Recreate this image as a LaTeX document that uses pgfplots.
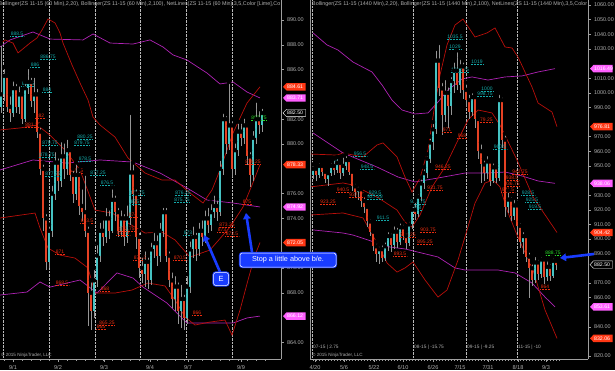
\documentclass[border=0pt]{standalone}
\usepackage{pgfplots}
\pgfplotsset{compat=1.18}
\usepackage{pgfplotstable}
\usepackage{fontspec}
\setmainfont{Liberation Sans}
\usetikzlibrary{arrows.meta}

\definecolor{upc}{RGB}{70,195,195}
\definecolor{dnc}{RGB}{230,65,35}
\definecolor{wick}{RGB}{150,150,150}
\definecolor{bbred}{RGB}{185,15,10}
\definecolor{bbpur}{RGB}{175,35,180}
\definecolor{lblc}{RGB}{20,170,170}
\definecolor{lblr}{RGB}{235,45,15}
\definecolor{lblg}{RGB}{40,220,40}
\definecolor{tagr}{RGB}{255,55,20}
\definecolor{tagm}{RGB}{255,95,255}
\definecolor{arrowb}{RGB}{25,60,255}
\definecolor{txtg}{RGB}{175,175,175}

\pgfplotstableread{
x o h l c
1 883 888.1 882.5 884
4 884 886.2 883.5 885.5
7 885.5 885.8 882.6 883
10 883 884 881.8 882.5
13 882.5 885.2 882.2 884.5
16 884.5 885 882.5 883
19 883 884.8 882.4 884
22 884 884.3 881.6 882
25 882 885 881.8 884.5
28 884.5 886.2 884 885
31 885 885.5 883 883.5
34 883.5 885.5 882.5 884
37 884 884.6 880.5 881
40 881 881.5 877.5 878
43 878 878.5 873 874
46 874 874.5 869.8 870.5
49 870.5 873.5 870 873
52 873 876.8 872.5 876
55 876 879.5 875.5 878.5
58 878.5 879 876.2 877
61 877 880.3 876.5 879
64 879 880.2 877.2 878
67 878 880.5 877.5 879.5
70 879.5 879.8 877 877.5
73 877.5 878 875.2 876
76 876 878.5 875.5 877.5
79 877.5 877.9 874.3 875
82 875 876.5 873.8 874.5
85 874.5 877.6 872.5 873
88 873 873.5 865.3 868
91 868 869 865 866.5
94 866.5 870 866 869
97 869 872 868.5 871
100 871 873.8 870.5 873
103 873 874 871.8 872.5
106 872.5 875 872 874
109 874 874.8 872.3 873
112 873 876.5 872.8 875.5
115 875.5 876 873.8 874.5
118 874.5 875 872.5 873
121 873 874.8 872.5 874
124 874 874.5 871.8 872.5
127 872.5 875.2 872 874
130 874 882.5 873.5 877.7
133 877.7 878.5 875 876
136 876 876.5 871.5 872.5
139 872.5 873 869.2 870
142 870 871 868.8 869.5
145 869.5 871.5 868.5 870.5
148 870.5 871 868.3 869
151 869 872.2 868.6 871.5
154 871.5 873 870.8 872
157 872 872.8 870.2 871
160 871 873.8 870.5 873
163 873 875 872.5 874.5
166 874.5 875 870.5 871
169 871 871.5 868.5 869
172 869 869.8 866.8 867.5
175 867.5 869.5 866.5 868.5
178 868.5 869 865.5 866.5
181 866.5 868.8 865.2 867.5
184 867.5 868 865 866
187 866 869.5 865.5 868.5
190 868.5 872.3 868 871.5
193 871.5 873.5 870.8 872.5
196 872.5 873 870.6 871.5
199 871.5 873.8 871 873
202 873 874 871.8 872.5
205 872.5 874.8 872 874
208 874 875 872.8 873.5
211 873.5 875.3 873 874.5
214 874.5 876 874 875
217 875 875.6 873.8 874.5
220 874.5 878.8 874.2 878
223 878 882.6 877.5 882
226 882 882.4 879.2 880
229 880 885 879.5 881.5
232 881.5 882 877.3 878
235 878 880.2 877.5 879.5
238 879.5 881.8 879 881
241 881 881.8 879.8 880.5
244 880.5 882.2 880 881.5
247 881.5 881.8 878.3 879
250 879 879.5 876.5 877.5
253 877.5 881.2 877 880.5
256 880.5 883.5 880 882
259 882 882.8 880.8 881.5
262 881.5 883 881 882.5
}\leftbars

\pgfplotstableread{
x o h l c
313 944 951 941 948
316 948 950 940 944
319 944 953 942 950
322 950 952 943 946
325 946 948 938 941
328 941 947 936 945
331 945 953 943 950
334 950 955 944 947
337 947 956 945 952
340 952 954 941 945
343 945 957 943 950
346 950 958 947 954
349 954 955 944 946
352 946 947 933 936
355 936 939 928 932
358 932 937 927 934
361 934 935 922 926
364 926 930 918 922
367 922 924 908 912
370 912 915 902 905
373 905 907 892 895
376 895 898 884 890
379 890 896 883 893
382 893 897 884 887
385 887 899 885 895
388 895 906 892 902
391 902 905 891 896
394 896 910 893 905
397 905 909 894 898
400 898 912 896 908
403 908 911 899 902
406 902 905 893 897
409 897 913 895 910
412 910 923 907 920
415 920 926 913 917
418 917 932 915 929
421 929 942 926 938
424 938 949 934 945
427 945 958 942 955
430 955 970 952 966
433 966 980 961 975
436 975 1030 972 1022
439 1022 1034 998 1003
442 1003 1008 971 985
445 985 1010 980 1000
448 1000 1005 976 991
451 991 1012 985 1008
454 1008 1022 1000 1015
457 1015 1029 1002 1005
460 1005 1024 1000 1018
463 1018 1022 996 1002
466 1002 1007 990 995
469 995 1000 982 987
472 987 1001 984 997
475 997 999 976 982
478 982 984 955 960
481 960 966 938 951
484 951 955 940 945
487 945 958 941 953
490 953 955 936 940
493 940 953 938 949
496 949 951 938 942
499 942 1000 940 995
502 995 998 962 968
505 968 972 915 922
508 922 933 918 927
511 927 930 912 916
514 916 928 913 923
517 923 925 905 909
520 909 912 894 898
523 898 906 890 902
526 902 904 884 888
529 888 892 860 880
532 880 884 868 872
535 872 889 870 884
538 884 887 872 876
541 876 889 873 886
544 886 888 869 874
547 874 886 871 881
550 881 884 871 875
553 875 888 873 885
556 885 887 879 882.5
}\rightbars

\newcommand{\candles}[3]{%
\addplot[forget plot, only marks, mark=none, error bars/.cd, y dir=minus, y explicit, error mark=none, error bar style={color=wick, line width=0.45pt}] table[x=x, y=h, y error minus expr={\thisrow{h}-\thisrow{l}}] {#1};
\addplot[forget plot, only marks, mark=none, error bars/.cd, y dir=minus, y explicit, error mark=none, error bar style={color=upc, line width=#3}] table[x=x, y expr={\thisrow{c}>=\thisrow{o} ? \thisrow{c} : nan}, y error minus expr={max(\thisrow{c}-\thisrow{o},#2)}] {#1};
\addplot[forget plot, only marks, mark=none, error bars/.cd, y dir=minus, y explicit, error mark=none, error bar style={color=dnc, line width=#3}] table[x=x, y expr={\thisrow{c}<\thisrow{o} ? \thisrow{o} : nan}, y error minus expr={max(\thisrow{o}-\thisrow{c},#2)}] {#1};
}

\newcommand{\lbl}[4]{%
\node[font=\fontsize{5}{5}\selectfont, text=#4, inner sep=0.3pt] (tmp) at (axis cs:#1,#2) {#3};
\draw[#4, densely dotted, line width=0.5pt] (tmp.south west) -- (tmp.south east);
}

\newcommand{\ptag}[3]{%
\fill[#2] ([xshift=2bp]#1) -- ++(3.5bp,3.7bp) -- ++(19bp,0) -- ++(0,-7.4bp) -- ++(-19bp,0) -- cycle;
\node[font=\fontsize{5.2}{5.2}\selectfont, text=white, anchor=west, inner sep=0pt] at ([xshift=6bp]#1) {#3};
}

\pgfplotsset{
 ninja/.style={
  scale only axis, anchor=south west, clip=true,
  axis background/.style={fill=black},
  axis x line*=bottom, axis y line*=right,
  axis line style={draw=gray!75, line width=0.4pt},
  tick style={gray!75, line width=0.4pt},
  tick align=outside, major tick length=2.5bp, minor tick length=1.5bp,
  xticklabel style={font=\fontsize{5.6}{5.6}\selectfont, text=txtg},
  yticklabel style={font=\fontsize{5.5}{5.5}\selectfont, text=txtg, /pgf/number format/.cd, fixed, fixed zerofill, precision=2, 1000 sep={}, assume math mode=true},
  scaled y ticks=false,
  extra x tick labels={},
  extra x tick style={grid=major, major grid style={gray!55, densely dotted, line width=0.4pt}, major tick length=0bp},
 }}

\begin{document}
\begin{tikzpicture}[x=1bp,y=1bp]
\useasboundingbox (0,0) rectangle (615,370);
\fill[black] (0,0) rectangle (615,370);

% ---------------- left: 60 min ----------------
\begin{axis}[ninja, at={(0bp,11bp)}, width=281bp, height=359bp,
  xmin=0, xmax=281, ymin=862.66, ymax=891.61,
  ytick={864,868,870,874,876,880,882,886,888,890},
  xtick={13,58,104,150,188,241}, xticklabels={9/1,9/2,9/3,9/4,9/7,9/9},
  minor xtick={4,13,...,265},
  extra x ticks={3,49,95,140,186,232}]
\addplot[bbpur, line width=0.7pt] coordinates {(0,887.82)(10,888.39)(33,889.03)(50,888.46)(83,888.39)(93,888.87)(110,888.14)(133,888.06)(150,888.39)(163,887.82)(173,887.18)(187,886.77)(207,885.72)(220,884.84)(233,885.0)(247,884.19)(260,883.71)};
\addplot[bbpur, line width=0.7pt] coordinates {(0,877.9)(33,878.71)(67,878.46)(100,878.71)(133,878.54)(160,877.66)(187,876.45)(207,875.48)(233,875.24)(260,874.92)};
\addplot[bbpur, line width=0.7pt] coordinates {(0,867.82)(27,868.06)(40,868.87)(50,868.46)(80,869.03)(97,867.98)(117,869.6)(133,869.19)(143,868.46)(167,867.17)(187,865.56)(233,865.56)(247,865.97)(260,866.12)};
\addplot[bbred, line width=0.7pt] coordinates {(0,887.98)(5,888.39)(13,888.14)(18,887.34)(30,888.14)(37,888.55)(42,889.19)(48,890.08)(55,889.76)(60,888.95)(63,888.14)(72,886.37)(80,884.92)(88,883.55)(93,882.17)(100,881.53)(115,880.56)(128,878.87)(145,877.66)(162,877.09)(175,877.09)(190,876.05)(203,875.24)(212,876.29)(220,877.9)(233,880.88)(247,883.3)(260,884.61)};
\addplot[bbred, line width=0.7pt] coordinates {(0,881.13)(20,881.29)(37,881.53)(50,880.72)(65,879.51)(80,877.9)(95,874.67)(112,874.43)(128,873.63)(145,872.82)(162,872.9)(175,872.26)(190,870.88)(210,871.45)(230,873.3)(243,874.92)(252,876.69)(260,878.33)};
\addplot[bbred, line width=0.7pt] coordinates {(0,874.03)(35,874.43)(40,873.22)(48,871.61)(60,871.04)(75,870.8)(88,870.0)(95,867.98)(115,867.98)(132,868.22)(148,868.79)(165,868.55)(175,867.42)(185,866.05)(195,865.4)(210,865.64)(225,865.8)(232,864.59)(240,866.61)(248,869.03)(255,871.04)(260,872.05)};
\candles{\leftbars}{0.12}{1.7pt}
\lbl{17}{888.87}{888.5}{lblc}
\lbl{48}{887.01}{886.75}{lblc}
\lbl{35}{886.37}{886}{lblc}
\lbl{28}{884.84}{884.5}{lblc}
\lbl{47}{884.35}{884}{lblc}
\lbl{40}{882.25}{882}{lblr}
\lbl{33}{881.53}{881.25}{lblr}
\lbl{50}{880.08}{879.75}{lblc}
\lbl{85}{880.56}{880.25}{lblc}
\lbl{82}{880.08}{879.75}{lblc}
\lbl{47}{879.11}{878.75}{lblc}
\lbl{85}{878.79}{878.5}{lblc}
\lbl{77}{877.82}{877.5}{lblr}
\lbl{53}{877.58}{877.25}{lblc}
\lbl{98}{877.66}{877.25}{lblc}
\lbl{107}{876.85}{876.5}{lblc}
\lbl{137}{876.05}{875.75}{lblc}
\lbl{135}{875.32}{875}{lblc}
\lbl{133}{874.27}{874}{lblr}
\lbl{87}{873.79}{873.5}{lblr}
\lbl{127}{873.14}{872.75}{lblr}
\lbl{123}{872.82}{872.5}{lblr}
\lbl{183}{876.05}{876.25}{lblc}
\lbl{182}{875.48}{875.75}{lblc}
\lbl{188}{872.82}{873}{lblc}
\lbl{227}{873.46}{873.25}{lblr}
\lbl{222}{873.06}{873}{lblr}
\lbl{232}{872.74}{872.5}{lblr}
\lbl{247}{875.32}{875}{lblr}
\lbl{253}{878.54}{879.25}{lblr}
\lbl{60}{871.29}{871}{lblr}
\lbl{140}{870.8}{870.5}{lblr}
\lbl{180}{870.8}{870.5}{lblr}
\lbl{62}{868.79}{868.5}{lblr}
\lbl{105}{868.3}{868}{lblr}
\lbl{107}{865.56}{865.25}{lblr}
\lbl{101}{865.24}{865}{lblr}
\lbl{197}{866.37}{866}{lblr}
\lbl{259}{882.09}{882.75}{lblg}
\coordinate (LA) at (axis cs:281,884.61);
\coordinate (LB) at (axis cs:281,883.71);
\coordinate (LC) at (axis cs:281,882.5);
\coordinate (LD) at (axis cs:281,878.33);
\coordinate (LE) at (axis cs:281,874.92);
\coordinate (LF) at (axis cs:281,872.05);
\coordinate (LG) at (axis cs:281,866.12);
\end{axis}

% ---------------- right: daily ----------------
\begin{axis}[ninja, at={(310bp,11bp)}, width=278bp, height=359bp,
  xmin=310, xmax=588, ymin=817.95, ymax=1063.42,
  ytick={820,840,860,870,890,900,910,920,930,950,960,970,990,1000,1010,1030,1040,1050,1060},
  xtick={315,344,374,403,433,460,488,518,546}, xticklabels={4/20,5/6,5/22,6/10,6/26,7/15,7/31,8/18,9/3},
  minor xtick={313,316,...,559},
  extra x ticks={312,413,466,517}]
\addplot[bbpur, line width=0.7pt] coordinates {(313,1040.9)(327,1032.7)(338,1029.2)(353,1021.0)(372,1014.2)(382,1005.3)(392,995.0)(402,988.2)(415,985.5)(428,986.2)(438,993.7)(448,1001.9)(462,1009.4)(472,1010.8)(488,1008.7)(505,1010.8)(522,1011.5)(538,1014.2)(555,1016.49)};
\addplot[bbpur, line width=0.7pt] coordinates {(313,972.5)(343,958.8)(377,949.2)(398,942.4)(415,939.0)(438,941.7)(465,945.1)(488,945.1)(505,945.8)(522,943.1)(538,939.7)(555,938.06)};
\addplot[bbpur, line width=0.7pt] coordinates {(313,906.2)(343,904.1)(353,902.7)(377,897.3)(390,894.5)(405,893.2)(438,887.7)(455,880.2)(465,878.8)(498,878.8)(515,876.8)(532,869.9)(545,860.3)(555,853.61)};
\addplot[bbred, line width=0.7pt] coordinates {(310,958.1)(337,957.4)(343,958.8)(363,956.1)(377,964.3)(383,965.7)(397,956.1)(405,942.4)(412,932.1)(420,941.7)(428,960.9)(434,988.2)(440,1012.1)(447,1032.7)(455,1046.3)(463,1050.4)(475,1038.1)(487,1040.9)(495,1044.3)(505,1031.3)(512,1030.6)(518,1024.4)(532,1003.9)(538,993.0)(552,986.8)(557,976.81)};
\addplot[bbred, line width=0.7pt] coordinates {(310,935.6)(343,938.3)(353,936.9)(377,928.7)(397,919.8)(405,911.6)(412,908.2)(420,916.4)(432,935.6)(445,949.2)(458,967.7)(468,981.4)(478,988.2)(492,986.2)(500,977.9)(517,954.0)(533,928.7)(557,904.42)};
\addplot[bbred, line width=0.7pt] coordinates {(310,916.4)(343,917.8)(363,914.4)(377,897.3)(387,883.6)(397,877.4)(405,880.2)(413,884.3)(425,872.0)(438,860.3)(447,865.1)(458,885.6)(467,906.1)(475,924.6)(485,938.3)(493,940.3)(500,935.6)(507,919.8)(517,902.7)(533,878.8)(545,851.5)(557,832.06)};
\candles{\rightbars}{1.0}{1.7pt}
\lbl{455}{1038.1}{1035.5}{lblc}
\lbl{455}{1031.3}{1029}{lblc}
\lbl{477}{1021.0}{1019}{lblc}
\lbl{460}{1015.6}{1012.75}{lblc}
\lbl{487}{1002.6}{1000}{lblc}
\lbl{485}{999.1}{998.75}{lblc}
\lbl{485}{981.4}{979.25}{lblr}
\lbl{447}{974.5}{971}{lblr}
\lbl{462}{970.4}{968}{lblr}
\lbl{443}{949.2}{946.25}{lblr}
\lbl{435}{934.9}{931.75}{lblr}
\lbl{500}{962.9}{960.5}{lblc}
\lbl{520}{945.8}{942.75}{lblr}
\lbl{512}{941.7}{938.5}{lblr}
\lbl{512}{937.6}{936.75}{lblr}
\lbl{508}{933.5}{931.5}{lblr}
\lbl{528}{931.5}{928.5}{lblc}
\lbl{532}{926.7}{925.5}{lblc}
\lbl{535}{921.9}{919.5}{lblc}
\lbl{360}{958.1}{956.5}{lblc}
\lbl{338}{952.7}{952}{lblc}
\lbl{367}{949.2}{948.5}{lblc}
\lbl{343}{933.5}{940.5}{lblr}
\lbl{357}{930.1}{937.75}{lblr}
\lbl{328}{925.3}{923.25}{lblr}
\lbl{375}{931.5}{929.5}{lblc}
\lbl{375}{928.7}{927.25}{lblc}
\lbl{383}{914.4}{911.5}{lblc}
\lbl{418}{925.3}{912.75}{lblc}
\lbl{417}{921.2}{918}{lblc}
\lbl{428}{906.2}{903.75}{lblr}
\lbl{408}{902.7}{900.25}{lblr}
\lbl{425}{897.9}{895.25}{lblr}
\lbl{400}{889.7}{893.5}{lblr}
\lbl{545}{867.2}{864}{lblr}
\lbl{553}{890.4}{888.75}{lblg}
\coordinate (RA) at (axis cs:588,1016.49);
\coordinate (RB) at (axis cs:588,976.81);
\coordinate (RC) at (axis cs:588,938.06);
\coordinate (RD) at (axis cs:588,904.42);
\coordinate (RE) at (axis cs:588,882.5);
\coordinate (RF) at (axis cs:588,853.61);
\coordinate (RG) at (axis cs:588,832.06);
\end{axis}

% separator of the right panel
\draw[gray!80, line width=0.8pt] (310,11) -- (310,370);

% titles, clipped to the panels
\begin{scope}
\clip (0,11) rectangle (281,370);
\node[anchor=north west, inner sep=0pt, font=\fontsize{5.4}{5.4}\selectfont, text=txtg] at (-1.5,368.8) {Bollinger(ZS 11-15 (60 Min),2,20), Bollinger(ZS 11-15 (60 Min),2,100), NetLines(ZS 11-15 (60 Min),3,5,Color [Lime],Co};
\end{scope}
\begin{scope}
\clip (311,11) rectangle (588,370);
\node[anchor=north west, inner sep=0pt, font=\fontsize{5.4}{5.4}\selectfont, text=txtg] at (312,368.8) {Bollinger(ZS 11-15 (1440 Min),2,20), Bollinger(ZS 11-15 (1440 Min),2,100), NetLines(ZS 11-15 (1440 Min),3,5,Color [};
\end{scope}

% copyright and contract rolls
\node[anchor=west, inner sep=0pt, font=\fontsize{4.6}{4.6}\selectfont, text=txtg] at (1,15) {\textcopyright\ 2015 NinjaTrader, LLC};
\node[anchor=west, inner sep=0pt, font=\fontsize{4.6}{4.6}\selectfont, text=txtg] at (312,15) {\textcopyright\ 2015 NinjaTrader, LLC};
\foreach \xx/\tt in {313/{07-15 | 2.75},414/{08-15 | -15.75},467/{09-15 | -9.25},518/{11-15 | -10}}
  \node[anchor=west, inner sep=0pt, font=\fontsize{4.8}{4.8}\selectfont, text=txtg] at (\xx,23) {\tt};

% price tags
\ptag{LA}{tagr}{884.61}
\ptag{LB}{tagm}{883.71}
\filldraw[fill=black, draw=white, line width=0.4pt] ([xshift=2bp]LC) -- ++(3.5bp,3.7bp) -- ++(19bp,0) -- ++(0,-7.4bp) -- ++(-19bp,0) -- cycle;
\node[font=\fontsize{5.2}{5.2}\selectfont, text=white, anchor=west, inner sep=0pt] at ([xshift=6bp]LC) {882.50};
\ptag{LD}{tagr}{878.33}
\ptag{LE}{tagm}{874.92}
\ptag{LF}{tagr}{872.05}
\ptag{LG}{tagm}{866.12}
\ptag{RA}{tagm}{1016.49}
\ptag{RB}{tagr}{976.81}
\ptag{RC}{tagm}{938.06}
\ptag{RD}{tagr}{904.42}
\filldraw[fill=black, draw=white, line width=0.4pt] ([xshift=2bp]RE) -- ++(3.5bp,3.7bp) -- ++(19bp,0) -- ++(0,-7.4bp) -- ++(-19bp,0) -- cycle;
\node[font=\fontsize{5.2}{5.2}\selectfont, text=white, anchor=west, inner sep=0pt] at ([xshift=6bp]RE) {882.50};
\ptag{RF}{tagm}{853.61}
\ptag{RG}{tagr}{832.06}

% annotations
\draw[arrowb, line width=2.6bp, -{Triangle[length=6bp,width=7.5bp]}] (220,98) -- (204,135);
\draw[arrowb, line width=2.6bp, -{Triangle[length=6bp,width=7.5bp]}] (252,118) -- (246,157);
\draw[arrowb, line width=2.6bp, -{Triangle[length=6bp,width=7.5bp]}] (594,116) -- (560,112);
\node[fill=arrowb, draw=arrowb, line width=0.9pt, double=white, double distance=0.5pt, rounded corners=2.5bp, text=white, font=\fontsize{7.5}{7.5}\selectfont, minimum width=15bp, minimum height=13bp, inner sep=0pt] at (221,91) {E};
\node[fill=arrowb, draw=arrowb, line width=0.9pt, double=white, double distance=0.5pt, rounded corners=2.5bp, text=white, font=\fontsize{7.3}{7.3}\selectfont, minimum width=96bp, minimum height=14bp, inner sep=0pt] at (288,110) {Stop a little above b/e.};
\end{tikzpicture}
\end{document}
